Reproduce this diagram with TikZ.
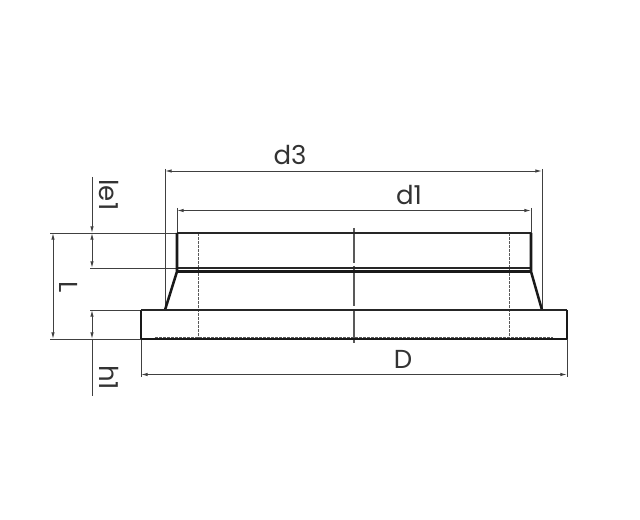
\documentclass[tikz,border=0pt]{standalone}
\usepackage{fontspec}
\setmainfont{Poppins}
\usetikzlibrary{arrows.meta}
\tikzset{
  thin line/.style={draw=black!75,line width=0.7pt},
  outline/.style={draw=black!90,line width=1.9pt,line cap=butt},
  medline/.style={draw=black!85,line width=1.4pt},
  hidden/.style={draw=black!65,line width=0.7pt,dash pattern=on 2pt off 1pt},
  center/.style={draw=black!65,line width=0.8pt,dash pattern=on 26pt off 2.5pt on 30pt off 2.5pt on 40pt},
  dim/.style={thin line,{Latex[length=5pt,width=2.6pt]}-{Latex[length=5pt,width=2.6pt]}},
  onearrow/.style={thin line,-{Latex[length=5pt,width=2.6pt]}},
  lab/.style={text=black!80,font=\fontsize{19.5pt}{20pt}\selectfont,inner sep=0pt,anchor=base}
}
\begin{document}
\begin{tikzpicture}[x=0.75pt,y=-0.75pt]
\useasboundingbox[fill=white] (0,0) rectangle (640,520);
% named points of the part
\coordinate (tl) at (177,233);
\coordinate (tr) at (531,233);
\coordinate (ml) at (177,268);
\coordinate (mr) at (531,268);
\coordinate (nl) at (177,271.5);
\coordinate (nr) at (531,271.5);
\coordinate (cl) at (165,310);
\coordinate (cr) at (542,310);
\coordinate (fl) at (141,310);
\coordinate (fr) at (567,310);
\coordinate (bl) at (141,339);
\coordinate (br) at (567,339);
% extension lines
\draw[thin line] (165,169) -- (cl);
\draw[thin line] (542,169) -- (cr);
\draw[thin line] (177,208) -- (tl);
\draw[thin line] (531,208) -- (tr);
\draw[thin line] (50,233) -- (tl);
\draw[thin line] (90,268) -- (ml);
\draw[thin line] (90,310) -- (fl);
\draw[thin line] (50,339) -- (bl);
\draw[thin line] (bl) -- (141,377);
\draw[thin line] (br) -- (567,377);
% hidden lines
\draw[hidden] (198.5,233) -- (198.5,339);
\draw[hidden] (509,233) -- (509,339);
\draw[hidden] (155,337.5) -- (553,337.5);
% centre line
\draw[center] (354,228) -- (354,343);
% outline
\draw[medline] (tl) -- (tr);
\draw[medline] (ml) -- (mr);
\draw[outline] (tl) -- (nl) -- (cl);
\draw[outline] (tr) -- (nr) -- (cr);
\draw[outline] (nl) -- (nr);
\draw[outline] (bl) -- (fl);
\draw[medline] (fl) -- (fr);
\draw[outline] (fr) -- (br);
\draw[outline] (bl) -- (br);
% dimensions
\draw[dim] (165,171) -- (542,171);
\draw[dim] (177,210.5) -- (531,210.5);
\draw[dim] (141,374.5) -- (567,374.5);
\draw[dim] (53,233) -- (53,339);
\draw[onearrow] (92,177) -- (92,233);
\draw[dim] (92,233) -- (92,268);
\draw[dim] (92,310) -- (92,339);
\draw[thin line] (92,339) -- (92,396);
% labels
\node[lab] (d3) at (290,165) {d3};
\node[lab] (d1) at (409,205) {d1};
\node[lab] (D) at (403,369) {D};
\node[lab,rotate=-90] (le1) at (99,195) {le1};
\node[lab,rotate=-90] (L) at (60,287) {L};
\node[lab,rotate=-90] (h1) at (99,377.5) {h1};
\end{tikzpicture}
\end{document}
